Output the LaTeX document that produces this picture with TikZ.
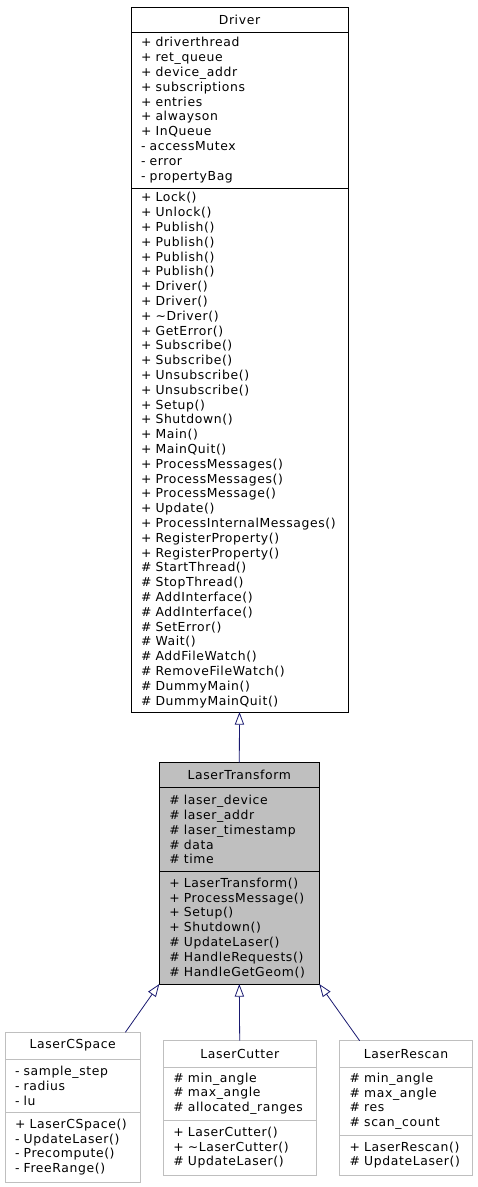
\documentclass[tikz,border=0pt]{standalone}
\usepackage{fontspec}
\newfontfamily\umlfont[LetterSpace=5]{DejaVu Sans}
\usetikzlibrary{positioning,arrows.meta}
\definecolor{edgeblue}{HTML}{191970}
\definecolor{boxgray}{HTML}{BFBFBF}
\newcommand{\umlsize}{\umlfont\fontsize{12.4}{14.8}\selectfont}
\tikzset{
  member/.style={draw, line width=0.8pt, inner xsep=10pt, inner ysep=0pt,
    outer sep=0pt, align=left, text width=#1, font=\umlsize},
  classname/.style={member=#1, align=center},
  faint/.style={draw=boxgray},
  inherit/.style={draw=edgeblue, line width=0.8pt,
    -{Triangle[open,length=12.7pt,width=9.3pt,fill=white]}}
}

\begin{document}
\begin{tikzpicture}[x=1pt,y=1pt]
\useasboundingbox (0,0) rectangle (477,-1187);

% Driver
\node[classname=197pt, minimum height=25pt, anchor=north] (driver) at (239.5,-7) {Driver};
\node[member=197pt, minimum height=156pt, below=0pt of driver] (driverattr) {%
+ driverthread\\
+ ret\_queue\\
+ device\_addr\\
+ subscriptions\\
+ entries\\
+ alwayson\\
+ InQueue\\
- accessMutex\\
- error\\
- propertyBag};
\node[member=197pt, minimum height=524pt, below=0pt of driverattr] (drivermeth) {%
+ Lock()\\
+ Unlock()\\
+ Publish()\\
+ Publish()\\
+ Publish()\\
+ Publish()\\
+ Driver()\\
+ Driver()\\
+ \textasciitilde Driver()\\
+ GetError()\\
+ Subscribe()\\
+ Subscribe()\\
+ Unsubscribe()\\
+ Unsubscribe()\\
+ Setup()\\
+ Shutdown()\\
+ Main()\\
+ MainQuit()\\
+ ProcessMessages()\\
+ ProcessMessages()\\
+ ProcessMessage()\\
+ Update()\\
+ ProcessInternalMessages()\\
+ RegisterProperty()\\
+ RegisterProperty()\\
\# StartThread()\\
\# StopThread()\\
\# AddInterface()\\
\# AddInterface()\\
\# SetError()\\
\# Wait()\\
\# AddFileWatch()\\
\# RemoveFileWatch()\\
\# DummyMain()\\
\# DummyMainQuit()};

% LaserTransform
\node[classname=140pt, minimum height=25pt, fill=boxgray, anchor=north] (lt) at (239.3,-762.7) {LaserTransform};
\node[member=140pt, minimum height=84pt, fill=boxgray, below=0pt of lt] (ltattr) {%
\# laser\_device\\
\# laser\_addr\\
\# laser\_timestamp\\
\# data\\
\# time};
\node[member=140pt, minimum height=112.3pt, fill=boxgray, below=0pt of ltattr] (ltmeth) {%
+ LaserTransform()\\
+ ProcessMessage()\\
+ Setup()\\
+ Shutdown()\\
\# UpdateLaser()\\
\# HandleRequests()\\
\# HandleGetGeom()};

% LaserCSpace
\node[classname=115.3pt, minimum height=26.7pt, faint, anchor=north] (cspace) at (72.7,-1032.3) {LaserCSpace};
\node[member=115.3pt, minimum height=53.3pt, faint, below=0pt of cspace] (cspaceattr) {%
- sample\_step\\
- radius\\
- lu};
\node[member=115.3pt, minimum height=69.7pt, faint, below=0pt of cspaceattr] (cspacemeth) {%
+ LaserCSpace()\\
- UpdateLaser()\\
- Precompute()\\
- FreeRange()};

% LaserCutter
\node[classname=132.7pt, minimum height=26.3pt, faint, anchor=north] (cutter) at (239.7,-1040.7) {LaserCutter};
\node[member=132.7pt, minimum height=53.3pt, faint, below=0pt of cutter] (cutterattr) {%
\# min\_angle\\
\# max\_angle\\
\# allocated\_ranges};
\node[member=132.7pt, minimum height=54.7pt, faint, below=0pt of cutterattr] (cuttermeth) {%
+ LaserCutter()\\
+ \textasciitilde LaserCutter()\\
\# UpdateLaser()};

% LaserRescan
\node[classname=112.7pt, minimum height=26.3pt, faint, anchor=north] (rescan) at (406,-1040.7) {LaserRescan};
\node[member=112.7pt, minimum height=68.3pt, faint, below=0pt of rescan] (rescanattr) {%
\# min\_angle\\
\# max\_angle\\
\# res\\
\# scan\_count};
\node[member=112.7pt, minimum height=39.7pt, faint, below=0pt of rescanattr] (rescanmeth) {%
+ LaserRescan()\\
\# UpdateLaser()};

% inheritance
\draw[inherit] (lt.north) -- (drivermeth.south);
\draw[inherit] ([xshift=-15pt]cspace.north east) -- (ltmeth.south west);
\draw[inherit] (cutter.north) -- (ltmeth.south);
\draw[inherit] ([xshift=20pt]rescan.north west) -- (ltmeth.south east);

\end{tikzpicture}
\end{document}
